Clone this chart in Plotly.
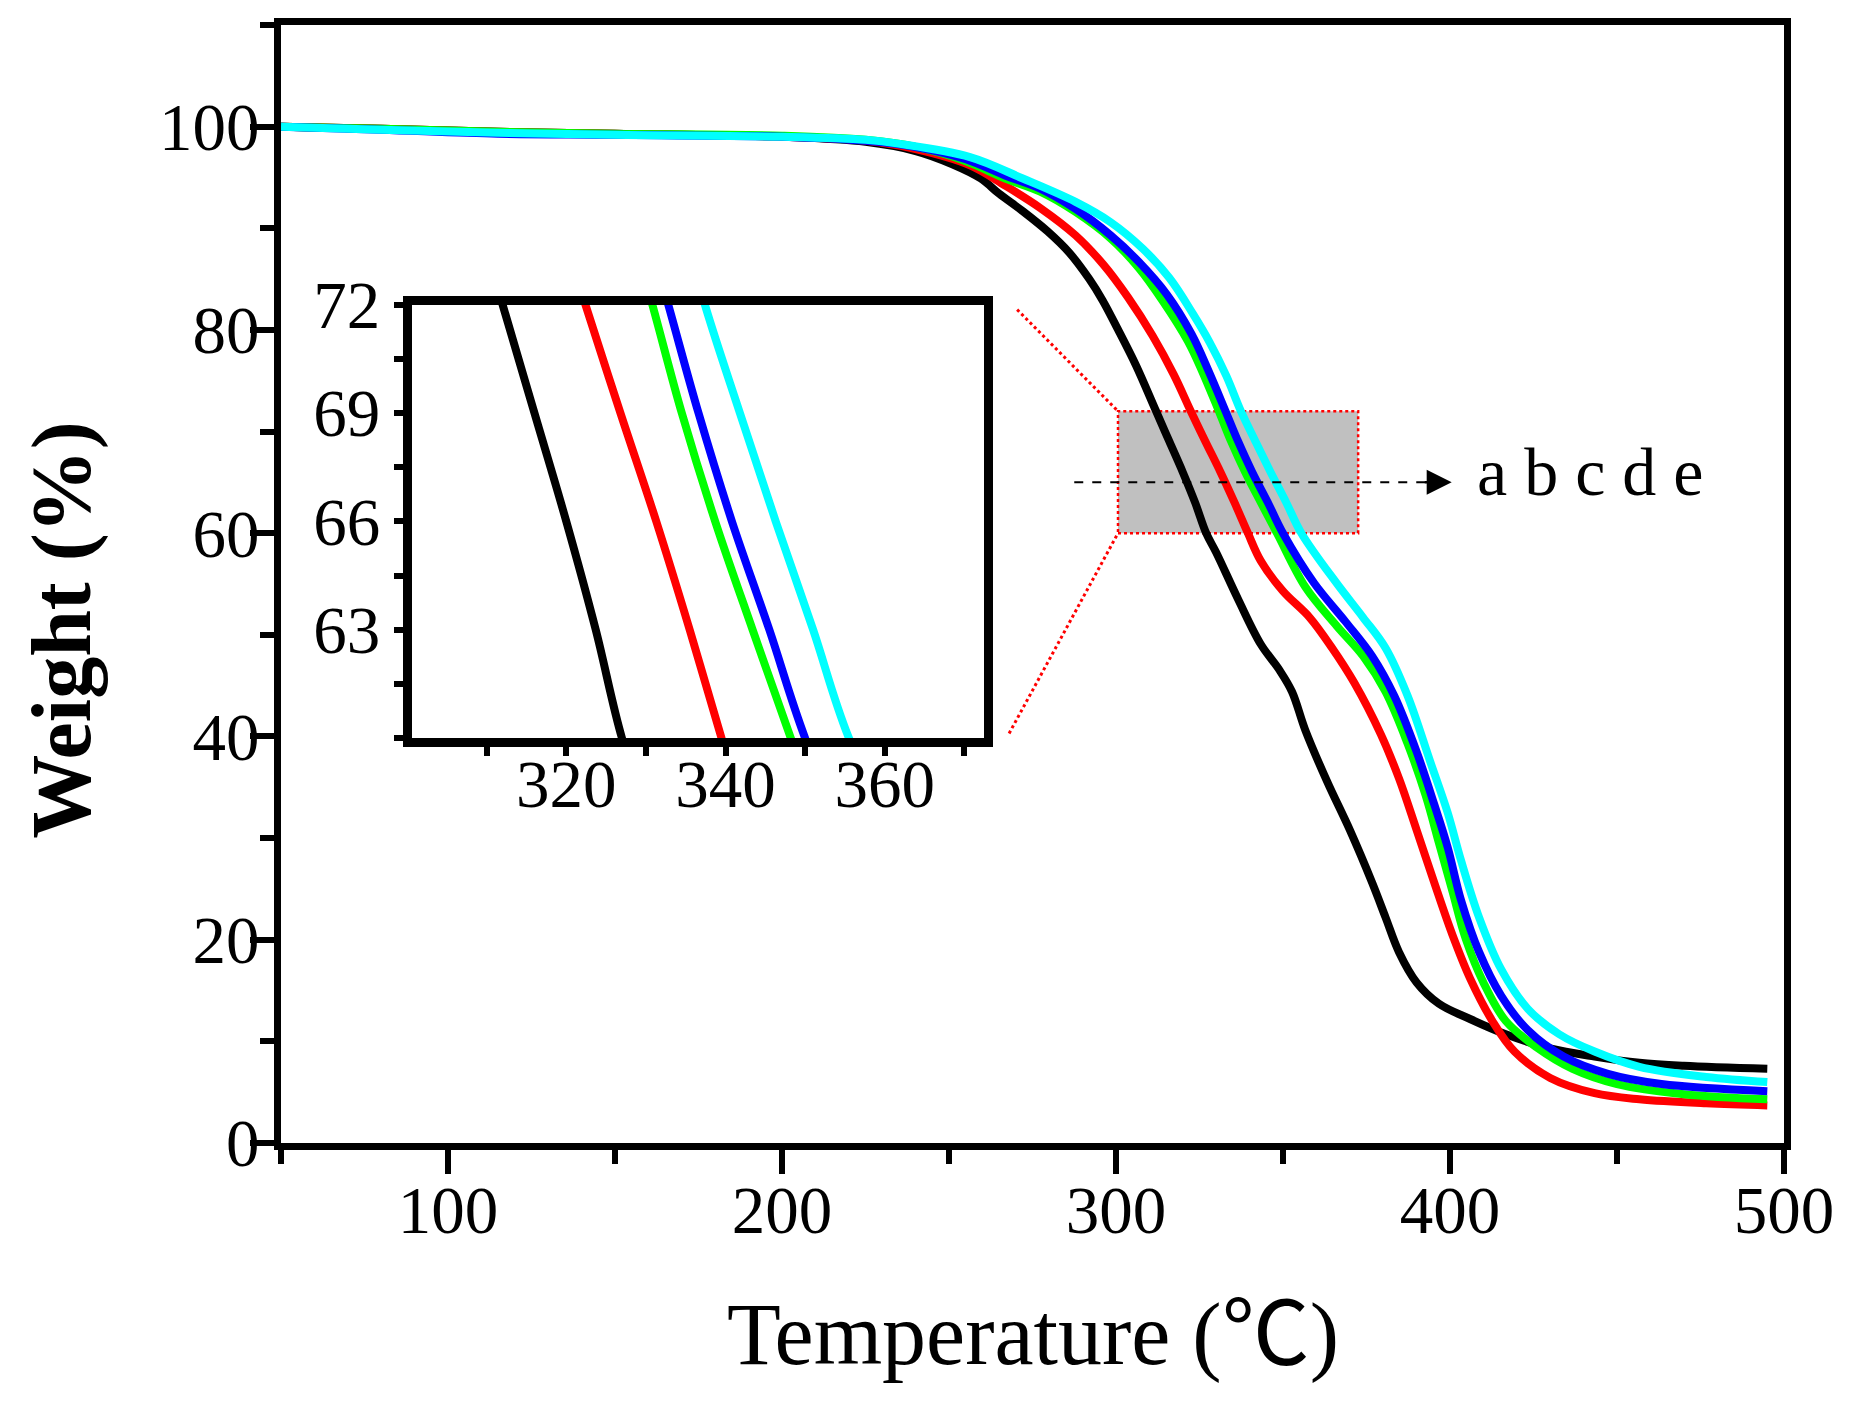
import plotly.graph_objects as go

# TGA curves a-e
temp_a = [50, 80, 115, 150, 200, 225, 240, 251, 259.5, 265, 272, 279.5, 286, 292, 296, 300.5, 306,
          312, 316, 320, 323.7, 327, 330, 336.7, 343.3, 349, 352.7, 356.7, 363.3, 370, 376.7, 380.7,
          384.7, 390, 396.7, 406, 416.7, 430, 443.3, 456.7, 470, 495]
weight_a = [100, 99.8, 99.5, 99.3, 99.0, 98.5, 97.6, 96.3, 94.9, 93.4, 91.7, 89.7, 87.6, 85.0, 82.9, 80.1, 76.5,
            72, 69, 66, 63, 60, 58.1, 53.4, 49.1, 46.5, 44.4, 40.6, 35.5, 30.8, 25.6, 22.2,
            18.8, 15.8, 13.7, 12.2, 10.7, 9.3, 8.5, 7.9, 7.6, 7.3]

temp_b = [50, 80, 115, 150, 200, 225, 240, 256.3, 266.8, 277.3, 287.9, 296.3, 303.6, 311, 317.3,
          322.4, 326.8, 331.3, 335.5, 339.5, 343.3, 350, 358, 364.7, 371.3, 379.3, 384.7, 390, 395.3,
          400.7, 406, 412.7, 419.3, 430, 443.3, 456.7, 476.7, 495]
weight_b = [100, 99.8, 99.5, 99.3, 99.0, 98.6, 97.8, 96.2, 94.2, 92.0, 89.3, 86.4, 83.2, 79.4, 75.6,
            72, 69, 66, 63, 60, 57.3, 54.3, 51.7, 48.7, 45.3, 40.2, 35.9, 30.8, 25.6,
            20.5, 16.2, 12.0, 9.0, 6.4, 4.9, 4.3, 3.9, 3.7]

temp_c = [50, 80, 115, 150, 200, 225, 240, 255, 266.8, 277.3, 287.9, 298.4, 306.8, 314.1, 321.5, 325.7,
          330.8, 334.5, 338.7, 343.4, 348.2, 356.7, 366, 374, 380.7, 387.3, 392.7, 396.7, 400.7, 404.7,
          410, 416.7, 426, 436.7, 450, 470, 495]
weight_c = [100, 99.8, 99.5, 99.3, 99.1, 98.7, 98.0, 96.6, 94.9, 93.6, 91.6, 89.0, 86.1, 82.8, 78.9, 76.0,
            72, 69, 66, 63, 60, 54.7, 50.9, 47.9, 44.4, 39.3, 34.2, 29.5, 24.8, 20.1,
            15.8, 12.0, 9.4, 7.3, 5.8, 4.8, 4.3]

temp_d = [50, 80, 115, 150, 200, 225, 240, 255, 266.8, 277.3, 287.9, 298.4, 306.8, 315.2, 322.6, 327.8,
          332.8, 336.6, 340.8, 345.5, 350, 359.3, 368.7, 376.7, 383.3, 390, 395.3, 399.3, 403.3, 408.7,
          415.3, 423.3, 434, 447.3, 463.3, 495]
weight_d = [100, 99.7, 99.3, 99.2, 99.0, 98.6, 98.0, 96.8, 95.2, 93.9, 91.9, 89.3, 86.7, 83.5, 79.6, 75.9,
            72, 69, 66, 63, 60, 55.1, 51.3, 47.9, 44, 38.5, 33.3, 29.1, 23.9, 18.8,
            14.5, 11.1, 8.5, 6.8, 5.8, 5.1]

temp_e = [50, 80, 115, 150, 200, 225, 235.3, 256.3, 272.1, 287.9, 298.4, 308, 316, 323, 328, 333,
          337.4, 341.8, 346.3, 351, 355.5, 366, 374, 380.7, 387.3, 394, 399.3, 403.3, 408.7, 415.3,
          423.3, 432.7, 443.3, 456.7, 476.7, 495]
weight_e = [100, 99.7, 99.4, 99.2, 99.0, 98.7, 98.3, 97.0, 94.9, 92.6, 90.6, 88.0, 85.1, 81.6, 78.8, 75.5,
            72, 69, 66, 63, 60, 55.1, 51.7, 48.7, 44, 37.6, 32.5, 27.8, 22.2, 17.1,
            13.2, 10.7, 9.0, 7.5, 6.5, 6.0]

labels = ["a", "b", "c", "d", "e"]
colors = ["#000000", "#ff0000", "#00ff00", "#0000ff", "#00ffff"]

# zoomed window shown in the inset
ZOOM_X = [300.6, 372.5]
ZOOM_Y = [60, 72]

SERIF = "Liberation Serif, Times New Roman, Noto Sans CJK SC, serif"

fig = go.Figure()
series = [(temp_a, weight_a), (temp_b, weight_b), (temp_c, weight_c), (temp_d, weight_d), (temp_e, weight_e)]
for (t, w), lab, col in zip(series, labels, colors):
    fig.add_trace(go.Scatter(x=t, y=w, mode="lines", name=lab, showlegend=False,
                             line=dict(color=col, width=8, shape="spline", smoothing=1.0)))
for (t, w), lab, col in zip(series, labels, colors):
    fig.add_trace(go.Scatter(x=t, y=w, mode="lines", name=lab, showlegend=False, xaxis="x2", yaxis="y2",
                             line=dict(color=col, width=8, shape="spline", smoothing=1.0)))

tick_font = dict(family=SERIF, size=67, color="black")
main_axis = dict(ticks="outside", ticklen=24, tickwidth=6, tickcolor="black", showline=True, linewidth=7,
                 linecolor="black", mirror=True, showgrid=False, zeroline=False, tickfont=tick_font,
                 automargin=False)
inset_axis = dict(ticks="outside", ticklen=9, tickwidth=6, tickcolor="black", showline=True, linewidth=9,
                  linecolor="black", mirror=True, showgrid=False, zeroline=False, tickfont=tick_font,
                  automargin=False)

fig.update_layout(
    width=1855, height=1408,
    margin=dict(l=273, r=79, t=17, b=273, autoexpand=False),
    paper_bgcolor="white", plot_bgcolor="white",
    xaxis=dict(range=[50, 500], tick0=0, dtick=100, ticklabelstandoff=-21, **main_axis,
               minor=dict(dtick=50, tick0=0, ticks="outside", ticklen=14, tickwidth=6, tickcolor="black")),
    yaxis=dict(range=[0, 110], tick0=0, dtick=20, ticklabelstandoff=-23, **main_axis,
               minor=dict(dtick=10, tick0=0, ticks="outside", ticklen=14, tickwidth=6, tickcolor="black")),
    xaxis2=dict(domain=[0.087, 0.468], anchor="y2", range=ZOOM_X, tickvals=[320, 340, 360],
                ticklabelstandoff=-30, **inset_axis,
                minor=dict(dtick=10, tick0=0, ticks="outside", ticklen=9, tickwidth=6, tickcolor="black")),
    yaxis2=dict(domain=[0.362, 0.750], anchor="x2", range=ZOOM_Y, tickvals=[63, 66, 69, 72], **inset_axis,
                minor=dict(dtick=1.5, tick0=0, ticks="outside", ticklen=9, tickwidth=6, tickcolor="black")),
)

# grey zoom box + dotted connectors to the inset
fig.add_shape(type="rect", xref="x", yref="y", x0=ZOOM_X[0], x1=ZOOM_X[1], y0=ZOOM_Y[0], y1=ZOOM_Y[1],
              fillcolor="#c0c0c0", line=dict(color="red", width=2.5, dash="dot"), layer="below")
fig.add_shape(type="line", xref="x", yref="y", x0=270.4, y0=82.0, x1=ZOOM_X[0], y1=ZOOM_Y[1],
              line=dict(color="red", width=3, dash="dot"))
fig.add_shape(type="line", xref="x", yref="y", x0=268.0, y0=40.3, x1=ZOOM_X[0], y1=ZOOM_Y[0],
              line=dict(color="red", width=3, dash="dot"))

# dashed arrow a -> e
fig.add_shape(type="line", xref="x", yref="y", x0=287.5, y0=65.0, x1=393, y1=65.0,
              line=dict(color="black", width=2, dash="dash"))
fig.add_annotation(x=400.5, y=65.0, ax=392, ay=65.0, xref="x", yref="y", axref="x", ayref="y",
                   text="", showarrow=True, arrowhead=2, arrowsize=2.0, arrowwidth=2.5, arrowcolor="black")
fig.add_annotation(x=442, y=66.0, xref="x", yref="y", text=" ".join(labels), showarrow=False,
                   font=dict(family=SERIF, size=68, color="black"), xanchor="center", yanchor="middle")

# axis titles
fig.add_annotation(x=0.5, y=0, xref="paper", yref="paper", text="Temperature (℃)", showarrow=False,
                   font=dict(family=SERIF, size=88, color="black"), xanchor="center", yanchor="middle",
                   yshift=-191)
fig.add_annotation(x=0, y=0.459, xref="paper", yref="paper", text="Weight (%)", showarrow=False,
                   textangle=-90, font=dict(family=SERIF, size=84, color="black", weight="bold"),
                   xanchor="center", yanchor="middle", xshift=-219)

fig.write_html("out.html")
